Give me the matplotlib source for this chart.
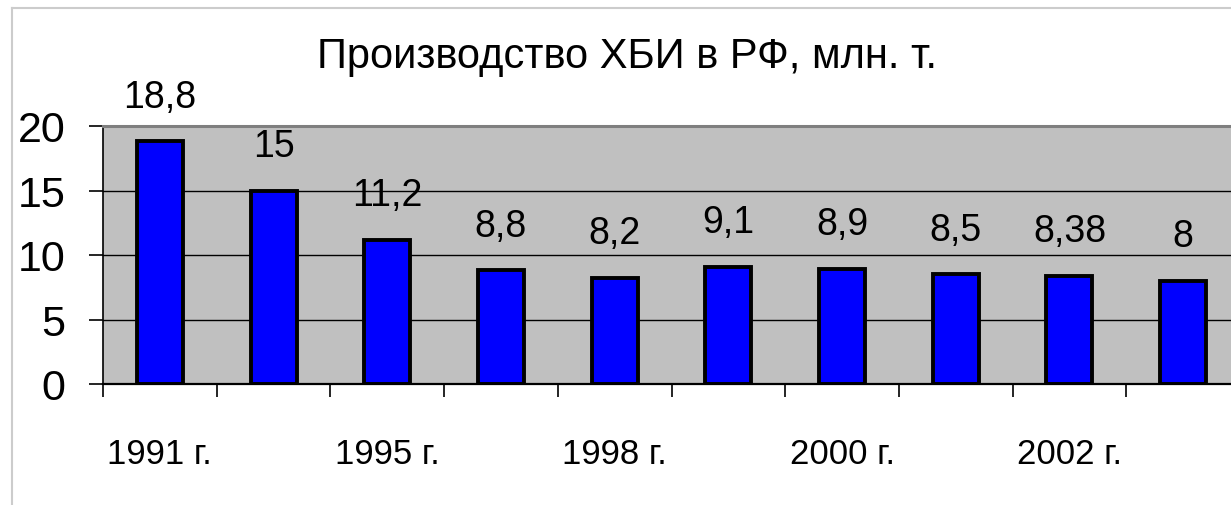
import numpy as np
import matplotlib
matplotlib.use("Agg")
import matplotlib.pyplot as plt
from matplotlib.lines import Line2D

# Data
categories = ["1991 г.", "", "1995 г.", "", "1998 г.", "", "2000 г.", "", "2002 г.", ""]
values = [18.8, 15, 11.2, 8.8, 8.2, 9.1, 8.9, 8.5, 8.38, 8]
value_labels = ["18,8", "15", "11,2", "8,8", "8,2", "9,1", "8,9", "8,5", "8,38", "8"]
yticks = [0, 5, 10, 15, 20]
title = "Производство ХБИ в РФ, млн. т."

W, H = 1231, 506
fig = plt.figure(figsize=(W / 100, H / 100), dpi=100)
fig.patch.set_facecolor("white")

# light outer frame (left and top visible)
fig.add_artist(Line2D([12 / W, 12 / W], [0, 1 - 9 / H], color="#CCCCCC", lw=1.5))
fig.add_artist(Line2D([12 / W, 1], [1 - 9 / H, 1 - 9 / H], color="#CCCCCC", lw=1.5))

ax = fig.add_axes([103 / W, (H - 385) / H, 1137 / W, 258 / H])
ax.set_facecolor("#C0C0C0")

x = np.arange(len(values))
ax.bar(x, values, width=0.405, color="#0000FF", edgecolor="black", linewidth=2.8, zorder=3)

ax.set_xlim(-0.5, len(values) - 0.5)
ax.set_ylim(0, 20)
ax.set_yticks(yticks)
ax.set_yticklabels([str(t) for t in yticks])
ax.yaxis.grid(True, color="black", lw=1.0)
ax.set_axisbelow(True)

ax.spines["right"].set_visible(False)
ax.spines["top"].set_color("#7F7F7F")
ax.spines["top"].set_linewidth(2.2)
ax.spines["left"].set_color("black")
ax.spines["left"].set_linewidth(1.2)
ax.spines["bottom"].set_color("black")
ax.spines["bottom"].set_linewidth(1.6)

ax.tick_params(axis="y", direction="out", length=10, width=1.2, pad=17, labelsize=31)
for lab in ax.get_yticklabels():
    lab.set_fontfamily("Liberation Sans")

# x: boundary ticks (major) and labels at centers (minor)
ax.set_xticks(np.arange(-0.5, len(values), 1))
ax.set_xticklabels([])
ax.tick_params(axis="x", which="major", direction="out", length=9, width=1.2)
ax.set_xticks(x, minor=True)
ax.set_xticklabels(categories, minor=True)
ax.tick_params(axis="x", which="minor", length=0, pad=38, labelsize=25)
for lab in ax.get_xticklabels(minor=True):
    lab.set_fontfamily("Liberation Sans")

for xi, v, lbl in zip(x, values, value_labels):
    ax.annotate(lbl, (xi, v), xytext=(0, 25), textcoords="offset points",
                ha="center", va="baseline", fontsize=27, family="Liberation Sans",
                zorder=5, annotation_clip=False)

fig.text(627 / W, (H - 68) / H, title, ha="center", va="baseline",
         fontsize=30, family="Liberation Sans")

fig.savefig("out.png", dpi=100, facecolor="white")
